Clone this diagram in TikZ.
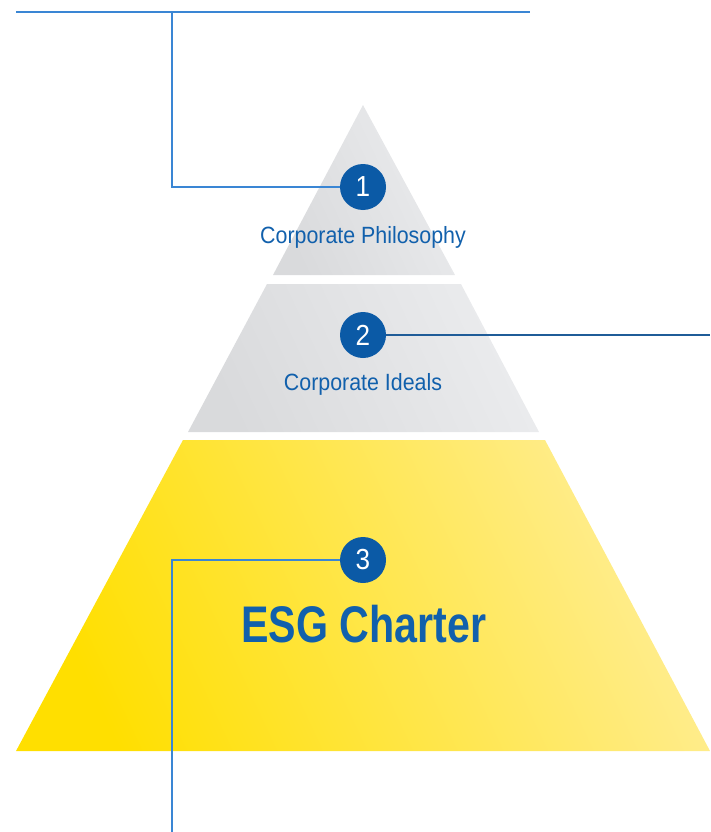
\documentclass[tikz,border=0pt]{standalone}
\usepackage{fontspec}
\usepackage{graphicx}
\setmainfont{Liberation Sans}
\definecolor{numblue}{HTML}{0B5AA6}
\definecolor{txtblue}{HTML}{1160AC}
\definecolor{lineA}{HTML}{3A86D4}
\definecolor{lineB}{HTML}{1F5C98}
\definecolor{grayL}{HTML}{D9DADC}
\definecolor{grayR}{HTML}{EBECEE}
\definecolor{yelL}{HTML}{FFDF00}
\definecolor{yelR}{HTML}{FFED93}
\tikzset{
  numcircle/.style={circle, fill=numblue, minimum size=46pt, inner sep=0pt, text=white,
    font=\fontsize{29}{30}\selectfont},
  lbl/.style={text=txtblue, anchor=base, inner sep=0pt, xscale=0.91,
    font=\fontsize{23.5}{26}\selectfont},
  biglbl/.style={text=txtblue, anchor=base, inner sep=0pt, xscale=0.80,
    font=\fontsize{51.5}{56}\selectfont\bfseries},
  linkA/.style={draw=lineA, line width=1.2pt},
  linkB/.style={draw=lineB, line width=1.2pt}
}
\begin{document}
\begin{tikzpicture}[x=1pt,y=-1pt]
\useasboundingbox (0,0) rectangle (710,832);
% pyramid pieces
\shade[top color=grayR, bottom color=grayL, shading angle=-65] (363,105) -- (455,275) -- (273,275) -- cycle;
\shade[top color=grayR, bottom color=grayL, shading angle=-65] (267,284) -- (461,284) -- (539,432) -- (188,432) -- cycle;
\shade[top color=yelR, bottom color=yelL, shading angle=-65] (183,440) -- (545,440) -- (710,751) -- (16,751) -- cycle;
% connector end points
\coordinate (tl) at (16,12);
\coordinate (tr) at (530,12);
\coordinate (j1) at (172,12);
\coordinate (k1) at (172,187);
\coordinate (e2) at (710,335);
\coordinate (k3) at (172,560);
\coordinate (e3) at (172,832);
% connectors
\draw[linkA] (tl) -- (tr);
\draw[linkA] (j1) -- (k1) -- (363,187);
\draw[linkB] (363,335) -- (e2);
\draw[linkA] (363,560) -- (k3) -- (e3);
% circles
\node[numcircle] (c1) at (363,187) {\scalebox{0.9}[1]{1}};
\node[numcircle] (c2) at (363,335) {\scalebox{0.9}[1]{2}};
\node[numcircle] (c3) at (363,560) {\scalebox{0.9}[1]{3}};
% labels
\node[lbl] (t1) at (363,243) {Corporate Philosophy};
\node[lbl] (t2) at (363,390) {Corporate Ideals};
\node[biglbl] (t3) at (364,642) {ESG Charter};
\end{tikzpicture}
\end{document}
